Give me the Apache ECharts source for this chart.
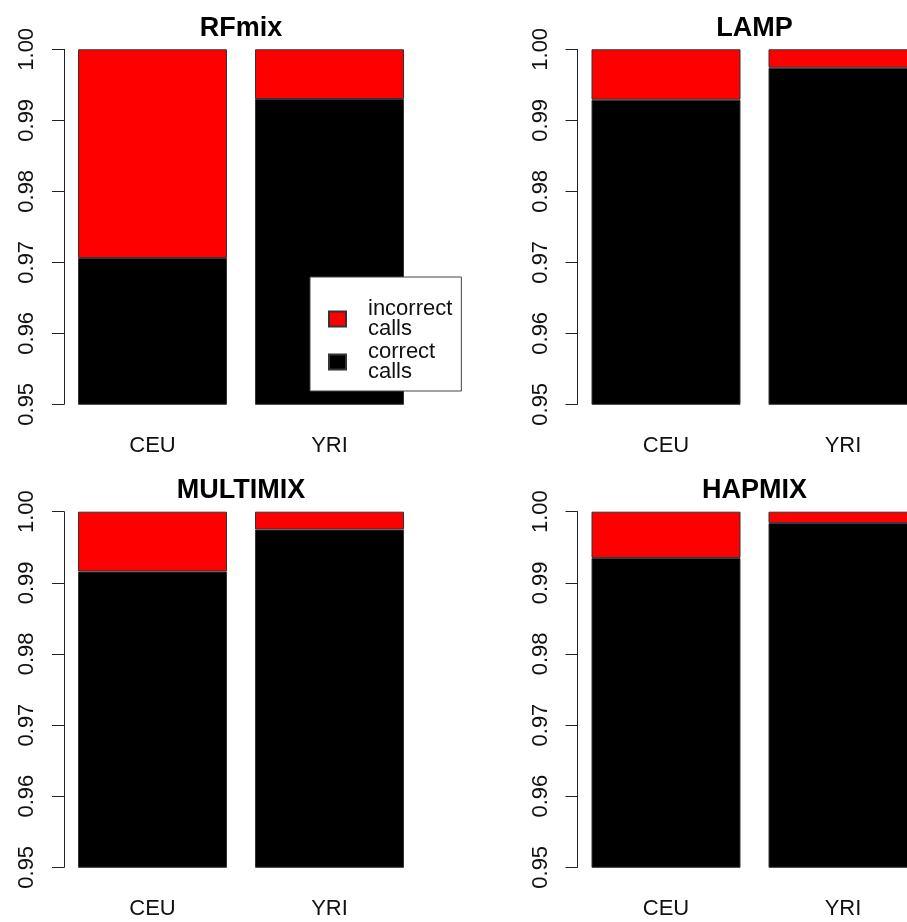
<!DOCTYPE html>
<html>
<head>
<meta charset="utf-8">
<script src="https://cdn.jsdelivr.net/npm/echarts@6/dist/echarts.min.js"></script>
<style>
html,body{margin:0;padding:0;background:#fff;}
#chart{width:907px;height:922px;}
</style>
</head>
<body>
<div id="chart"></div>
<script>
// ---- data ----
var categories = ['CEU', 'YRI'];
var panelTitles = ['RFmix', 'LAMP', 'MULTIMIX', 'HAPMIX'];
var correctRFmix    = [0.9706, 0.9930];
var incorrectRFmix  = [0.0294, 0.0070];
var correctLAMP     = [0.9929, 0.9974];
var incorrectLAMP   = [0.0071, 0.0026];
var correctMULTIMIX   = [0.9916, 0.9975];
var incorrectMULTIMIX = [0.0084, 0.0025];
var correctHAPMIX   = [0.9935, 0.9984];
var incorrectHAPMIX = [0.0065, 0.0016];
var yMin = 0.95, yMax = 1.00, yStep = 0.01;
var legendNames = ['incorrect\ncalls', 'correct\ncalls'];

var correctAll = [correctRFmix, correctLAMP, correctMULTIMIX, correctHAPMIX];
var incorrectAll = [incorrectRFmix, incorrectLAMP, incorrectMULTIMIX, incorrectHAPMIX];

// ---- layout ----
var FONT = '"Liberation Sans", Arial, Helvetica, sans-serif';
var gridPos = [
  {left: 64, top: 49.3, width: 354, height: 355},
  {left: 577.5, top: 49.3, width: 354, height: 355},
  {left: 64, top: 511.7, width: 354, height: 355.6},
  {left: 577.5, top: 511.7, width: 354, height: 355.6}
];
var titleTops = [15, 15, 477, 477];

var chart = echarts.init(document.getElementById('chart'), null, {renderer: 'canvas'});
var grids = [], xAxes = [], yAxes = [], series = [], titles = [];
for (var i = 0; i < 4; i++) {
  var g = gridPos[i];
  grids.push({left: g.left, top: g.top, width: g.width, height: g.height,
    containLabel: false, outerBoundsMode: 'none'});
  titles.push({
    text: panelTitles[i], left: g.left + g.width / 2, top: titleTops[i], textAlign: 'center',
    padding: 0,
    textStyle: {fontFamily: FONT, fontSize: 27, fontWeight: 'bold', color: '#000'}
  });
  xAxes.push({
    type: 'category', gridIndex: i, data: categories,
    axisLine: {show: false}, axisTick: {show: false}, splitLine: {show: false},
    axisLabel: {fontFamily: FONT, fontSize: 22, color: '#111', margin: 31}
  });
  yAxes.push({
    type: 'value', gridIndex: i, min: yMin, max: yMax, interval: yStep,
    splitLine: {show: false},
    axisLine: {show: true, lineStyle: {color: '#222', width: 1}},
    axisTick: {show: true, length: 12, lineStyle: {color: '#222', width: 1}},
    axisLabel: {fontFamily: FONT, fontSize: 22, color: '#111', rotate: 90, margin: 26,
      formatter: function (v) { return v.toFixed(2); }}
  });
  series.push({
    type: 'bar', name: legendNames[1], xAxisIndex: i, yAxisIndex: i, stack: 's' + i,
    data: correctAll[i], barWidth: 149, clip: true,
    itemStyle: {color: '#000000', borderColor: '#333', borderWidth: 1}
  });
  series.push({
    type: 'bar', name: legendNames[0], xAxisIndex: i, yAxisIndex: i, stack: 's' + i,
    data: incorrectAll[i], barWidth: 149, clip: true,
    itemStyle: {color: '#FF0000', borderColor: '#333', borderWidth: 1}
  });
}

chart.setOption({
  animation: false,
  backgroundColor: '#ffffff',
  title: titles,
  grid: grids,
  xAxis: xAxes,
  yAxis: yAxes,
  series: series,
  legend: {
    data: legendNames,
    orient: 'vertical',
    left: 310, top: 277,
    padding: [21, 9, 8, 18],
    itemGap: 1,
    itemWidth: 17, itemHeight: 15,
    icon: 'rect',
    backgroundColor: '#fff',
    borderColor: '#444', borderWidth: 1,
    selectedMode: false,
    textStyle: {fontFamily: FONT, fontSize: 22, lineHeight: 20, color: '#111', padding: [0, 0, 0, 17]}
  }
});
</script>
</body>
</html>
